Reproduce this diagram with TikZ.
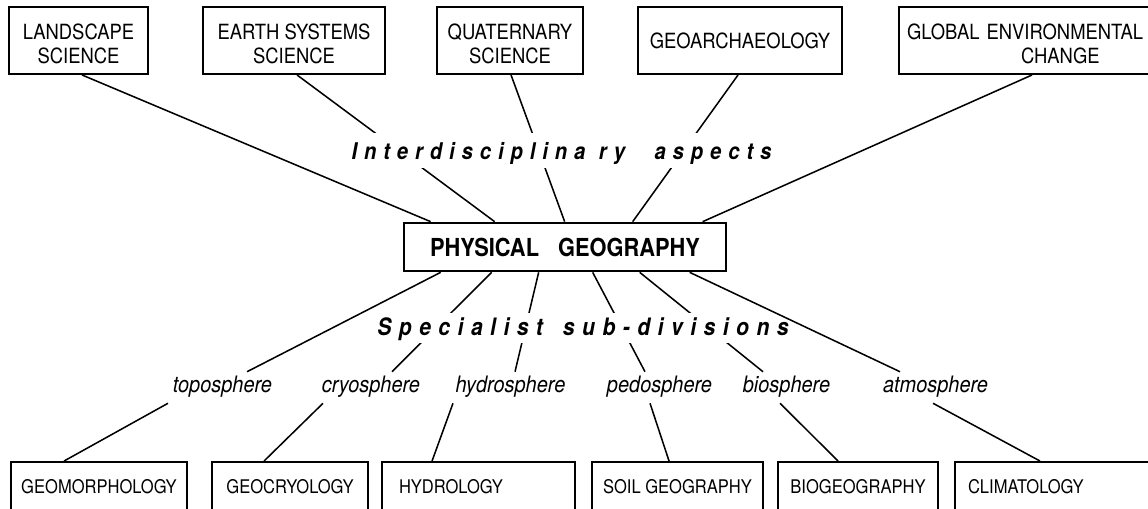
\documentclass[tikz,border=0pt]{standalone}
\usepackage{fontspec}
\setmainfont{TeX Gyre Heros}[FakeStretch=0.88]
\newfontfamily\trackedA{TeX Gyre Heros}[FakeStretch=0.88,LetterSpace=30.1]
\newfontfamily\trackedB{TeX Gyre Heros}[FakeStretch=0.88,LetterSpace=31.1]
\usetikzlibrary{calc}
\newcommand\pxu{0.75pt}
% taller first line, so that two-line labels sit a little lower in their boxes
\newcommand\firststrut{\rule{0pt}{17.5pt}}

\begin{document}
\begin{tikzpicture}[x=0.75pt,y=-0.75pt,
  sz/.style 2 args={minimum width=#1*\pxu, minimum height=#2*\pxu},
  box/.style={draw, line width=1.45pt, inner sep=0pt, align=center,
    font=\fontsize{15.7pt}{18pt}\selectfont},
  lowbox/.style={box, font=\fontsize{14.1pt}{16pt}\selectfont},
  hub/.style={draw, line width=2pt, inner sep=0pt,
    font=\bfseries\fontsize{18.6pt}{20pt}\selectfont},
  link/.style={line width=1.15pt},
  sphere/.style={inner sep=0pt, text height=15pt, text depth=8.25pt, anchor=base,
    font=\itshape\fontsize{17pt}{18pt}\selectfont},
  theme/.style={fill=white, inner sep=0pt, anchor=base}
]
\useasboundingbox (0,0) rectangle (1148,508);

% upper row: neighbouring disciplines
\node[box, sz={139}{67}] (ls) at (78.5,40.5) {\firststrut LANDSCAPE\\SCIENCE};
\node[box, sz={182}{67}] (es) at (294,40.5)  {\firststrut EARTH SYSTEMS\\SCIENCE};
\node[box, sz={146}{67}] (qs) at (510,40.5)  {\firststrut QUATERNARY\\SCIENCE};
\node[box, sz={204}{67}] (ga) at (740,40.5)  {GEOARCHAEOLOGY};
\node[box, sz={266}{67}, text width=250*\pxu, align=left] (gc) at (1032,40.5)
  {\firststrut GLOBAL ENVIRONMENTAL\\\hspace*{85.5pt}CHANGE};

% central box
\node[hub, sz={322}{48}] (pg) at (565,247) {PHYSICAL\hspace{14.25pt}GEOGRAPHY};

% sphere labels
\node[sphere] (topo)  at (222.5,392) {toposphere};
\node[sphere] (cryo)  at (371,392)   {cryosphere};
\node[sphere] (hydro) at (510.5,392) {hydrosphere};
\node[sphere] (pedo)  at (659.5,392) {pedosphere};
\node[sphere] (bio)   at (786.5,392) {biosphere};
\node[sphere] (atmo)  at (935.5,392) {atmosphere};

% lower row: sub-disciplines
\node[lowbox, sz={176}{49}] (gm)  at (99,486.5)    {GEOMORPHOLOGY};
\node[lowbox, sz={156}{49}] (gcr) at (290,486.5)   {GEOCRYOLOGY};
\node[lowbox, sz={193}{49}, text width=159*\pxu, align=left] (hy) at (478.5,486.5) {HYDROLOGY};
\node[lowbox, sz={171}{49}] (sg)  at (677.5,486.5) {SOIL GEOGRAPHY};
\node[lowbox, sz={160}{49}] (bg)  at (858,486.5)   {BIOGEOGRAPHY};
\node[lowbox, sz={210}{49}, text width=184*\pxu, align=left] (cl) at (1060,486.5) {CLIMATOLOGY};

% links to the neighbouring disciplines
\draw[link] ($(ls.south west)+(74,0)$)  -- ($(pg.north west)+(28,0)$);
\draw[link] ($(es.south west)+(95,0)$)  -- ($(pg.north west)+(92,0)$);
\draw[link] ($(qs.south west)+(75,0)$)  -- ($(pg.north west)+(162,0)$);
\draw[link] ($(ga.south west)+(101,0)$) -- ($(pg.north west)+(230,0)$);
\draw[link] ($(gc.south west)+(134,0)$) -- ($(pg.north west)+(300,0)$);

\node[theme, text height=19.5pt, text depth=6.75pt] (inter) at (561.5,159)
  {\trackedA\bfseries\itshape\fontsize{17.25pt}{18pt}\selectfont
   Interdisciplina\hspace{10pt}ry\hspace{22pt}aspects};

% links to the sub-divisions
\draw[link] ($(pg.south west)+(89,0)$)  -- ($(cryo.north)+(21,0)$);
\draw[link] ($(pg.south west)+(136,0)$) -- ($(hydro.north)+(4.5,0)$);
\draw[link] ($(pg.south west)+(190,0)$) -- ($(pedo.north)+(-14.5,0)$);
\draw[link] ($(pg.south west)+(237,0)$) -- ($(bio.north)+(-23.5,0)$);

\node[theme, text height=16.5pt, text depth=6pt] (spec) at (583,335)
  {\trackedB\bfseries\itshape\fontsize{18pt}{19pt}\selectfont
   Specialist\hspace{15pt}sub-divisions};

\draw[link] ($(pg.south west)+(38,0)$)  -- ($(topo.north)+(24.5,0)$);
\draw[link] ($(pg.south west)+(287,0)$) -- ($(atmo.north)+(-35.5,0)$);

\draw[link] ($(topo.south)+(-54.5,0)$)  -- ($(gm.north west)+(54,0)$);
\draw[link] ($(cryo.south)+(-48,0)$)    -- ($(gcr.north west)+(53,0)$);
\draw[link] ($(hydro.south)+(-57.5,0)$) -- ($(hy.north west)+(51,0)$);
\draw[link] ($(pedo.south)+(-9.5,0)$)   -- ($(sg.north west)+(78,0)$);
\draw[link] ($(bio.south)+(-6.5,0)$)    -- ($(bg.north west)+(61,0)$);
\draw[link] ($(atmo.south)+(-2.5,0)$)   -- ($(cl.north west)+(86,0)$);
\end{tikzpicture}
\end{document}
